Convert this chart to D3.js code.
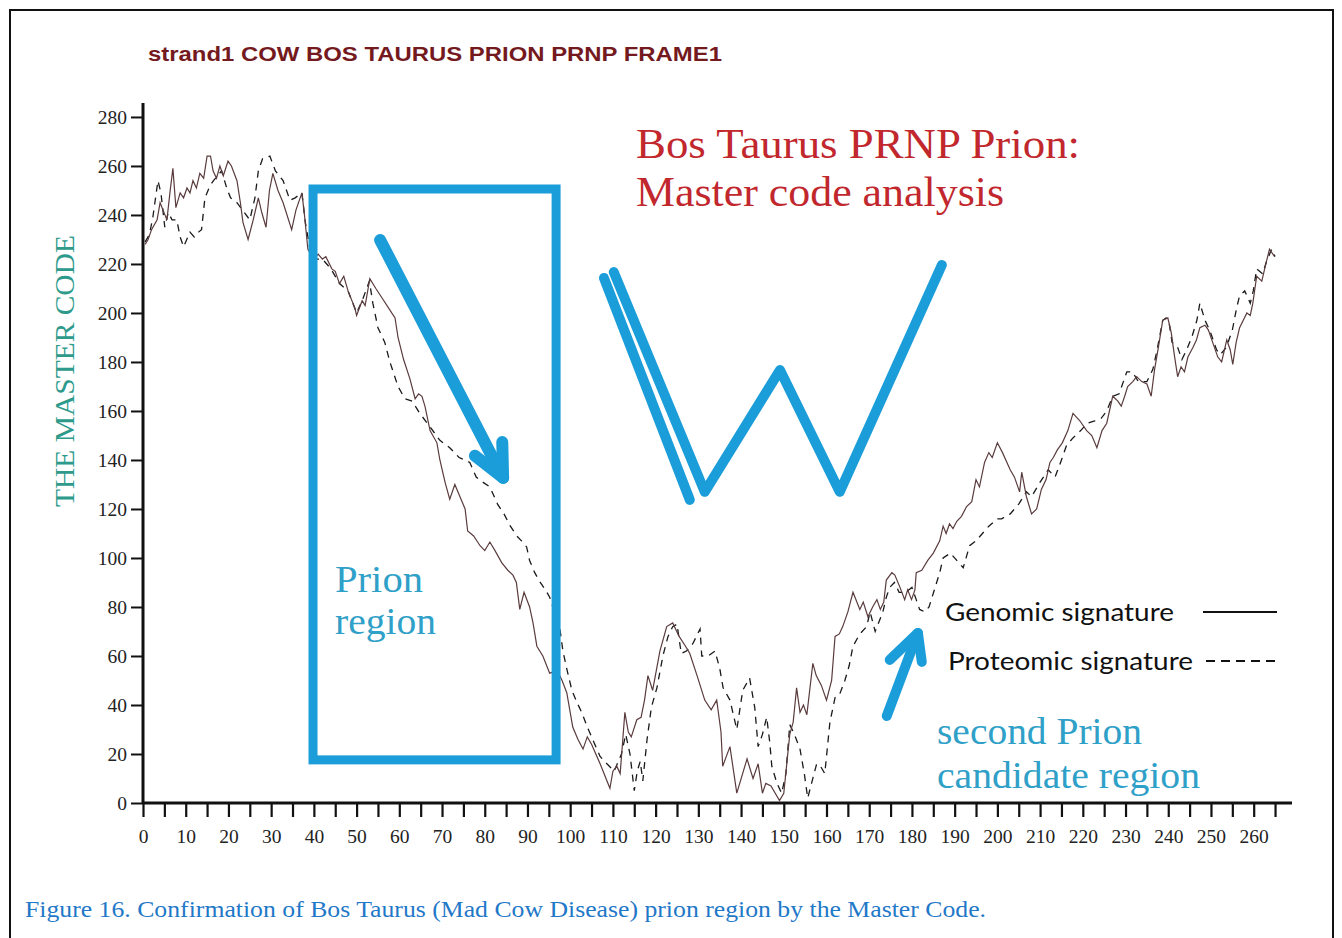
<!DOCTYPE html>
<html><head><meta charset="utf-8">
<script src="https://cdn.jsdelivr.net/npm/d3@7"></script>
<style>body{margin:0;background:#fff}svg{display:block}</style>
</head><body>
<svg id="c" width="1342" height="938"></svg>
<script>
// ---- data ----
const titleText = "strand1 COW BOS TAURUS PRION PRNP FRAME1";
const yLabel = "THE MASTER CODE";
const xTickStep = 5, xLabelStep = 10;
const yTicks = [0,20,40,60,80,100,120,140,160,180,200,220,240,260,280];
const seriesNames = ["Genomic signature","Proteomic signature"];

const genomicPos = [0.5,1.2,2,3.3,4,5.6,6.3,7,7.7,8.7,9.5,10.3,11,11.7,12.5,13.3,14.2,15,15.8,16.4,17.2,18,18.8,19.9,20.7,22,22.8,23.4,24.6,25.8,27,27.8,28.8,29.6,30.4,31.6,32.8,34.8,35.8,37.2,37.8,38.6,39.3,40,41,42,42.8,44.2,45,46,47,48,49.6,50,51.3,52,53.1,54.5,56,57.5,59,59.7,61,62.5,63.7,64.5,65.3,66,67.2,68.8,69.5,70.7,71.8,73,74.2,75.4,76,77.4,78.9,80,81.2,82.4,84,85.4,86.6,87.4,88.2,89.2,90.5,91.3,92.2,93.6,95.2,97,98.1,99.2,100.6,101.8,103,104,105,107,109.3,110,110.9,111.7,112.8,113.6,114.3,115.6,116.6,117.4,118.2,119.3,121,122.6,124,125.5,127,128,129.7,131.5,133,134.3,135.3,135.7,137.4,139,141.4,142.8,144,145,145.8,147,149,150,151.4,152.2,153,153.8,154.6,155.4,156.8,157.6,158.8,160,161.2,162,163,163.8,165,166.2,167.8,168.6,169.7,170.8,171.8,172.6,173.4,174,175.3,176,177.2,178.3,179,179.9,180.7,181,182.3,183.7,185,186.5,187.3,188,188.8,189.6,190.5,191.6,192.8,194,195,195.8,197,198,198.8,200,201.2,203,204,205.2,205.7,206.8,208,209.2,210.3,211.4,212.3,213.1,214,215.2,216.5,217.7,219.3,220.9,222.1,223.3,224.5,225.6,227,228.2,229,229.8,230.5,231.7,232.6,233.8,235,236,236.8,237.6,238.7,239.9,240.7,241.5,242.2,243,243.8,244.6,245.8,246.6,247.4,248.6,249.4,250.4,251.6,252.5,253.7,254.5,255.1,255.9,256.7,258.4,259.2,259.8,260.7,261.9,262.7,263.7,264.9];
const genomicVal = [228,230,234,238,245,238,249,259,243,249,247,251,249,254,251,257,255,264,264,258,255,260,256,262,260,254,245,237,230,238,247,241,235,250,257,250,245,234,242,249,240,226,224,222,224,222,223,218,217,212,215,209,202,199,205,203,214,210,206,202,198,190,181,173,165,167,166,162,152,147,140,131,124,130,125,120,111,109,105,103,106.5,103,98,95,93,90,79,86,80,73.5,64,60,53,54,50,45,31,26,22,27,24,16,6,13,15,12,37,29,27,34,35,42,52,46,62,72,73.5,68,64,61,52,42,38,42,29,15,23,4,18,10,16,4,8,7,1,4,28,33,47,37,40,36,57,52,48,42,50,68,69,72,78,86,79,82,76,80,83,79,82,91,94,93,88,83,87,83,87,94,95,99,102,107,113,110,114,112,115,117,121,123,132,129,139,143,141,147,143,136,133,127,135,125,118,120,128,132,139,141,144,147,152,159,156,152,150,145,152,155,166,164,162,166,170,172,174,172,171,166,177,185,197,198,192,182,174,178,176,182,186,189,194,195,193,188,182,180,189,185,179,188,194,200,199,204,215,213,219,226,223];

const proteomicPos = [0.5,1.5,2.3,3.5,4.2,5.1,5.9,6.8,7.9,8.7,9.5,11,12,13,13.7,14.5,15.7,16.5,17.2,18.4,19.6,20.5,22,23.3,25,26.2,27,28,29.7,31,32.8,34.4,35.6,37.2,38,39,40,42,44,46,48,50,51.3,53,53.8,55,56.6,57.8,59.7,61.3,63,64.8,67,69.5,71.8,74,76.5,78,79.5,81.2,83,84.5,86,87.5,88.6,89.8,90.5,91.7,93,94.2,95.2,97.6,98.3,99.3,100.4,101.6,102.7,104,105.5,107,108.6,110.3,112,113,114,115,115.7,116.4,117,118,119,120.3,121.7,122.9,124,125,126,127.2,128.7,130.4,130.8,132.3,133.9,135,135.8,137.4,139,140.4,142,143.2,144,145,146,146.7,147.2,148.4,149.5,150.5,151.4,152.5,153.8,154.8,155.6,156.5,157.7,158.6,159.6,160.8,162,163,164.3,165.3,166.2,167.8,169.4,170.2,171.4,173.2,174,174.8,175.9,177,178.5,180,181,181.8,183,184,186.5,187.3,189,190.5,192,193.5,195,196.5,198,200,201,203,205,206.8,208,210,211.9,213.5,215,216.2,217.7,219.5,221,222.8,224.3,225.6,227,228.5,230.3,231.6,233,235,236.4,237.4,238.7,239.5,240.2,240.9,242.2,243.2,244.3,245.5,246.7,247.4,248.6,249.7,251.3,252.2,253.6,255,256,256.7,257.9,259.2,259.9,260.7,262.1,263,264.2,265];
const proteomicVal = [229,232,239,254,249,235,241,238,238,231,227,233,231,233,234,247,252,254,255.5,258,251,247,245,242,238,247,258,263,264,258,254,246,247,249,237,227,222,222,218,212,209,200,205,213,204,194,188,180,170,165,164,159,154,148,145,141,139,133,131,129,122,118,113,109,107,104.5,99,94,90,87,84,71,62,54,46,41,37,31,25,19,16,13,20,28,20,5,13,17,9,26,39,47,60,68,72,73,61,62,65,71,60,60,62,55,47,42,30,46,51,39,23,28,35,25,15,8,4,12,32,28,22,12,2,8,16,15,12,33,43,44,50,56,64,69,72,78,70,78,84,88,90,86,86,88,83,79,78,80,94,100,102,99,96,105,107,110,113,116,116,118,122,127,125,131,136,133,140,146,149,152,155,156,157,160,166,167,176,176,172,172,177,185,197,198,196,188,186,181,185,190,197,204,197,193,185,183,186,193,202,207,209,204,209,218,216,221,226,223];

// annotation shapes, in data units
const boxX = [39.8, 96.7], boxY = [17.6, 250.6];
const arrow1 = [[55.5,229.8],[84.3,132.7]];
const arrow1Head = [[77.7,141.7],[84.3,132.7],[84.1,147.3]];
const wLeft = [[107.9,214.3],[128,123.7]];
const wMain = [[110.2,216.7],[131.5,127],[149.1,176.7],[163.1,127],[187,219.6]];
const arrow2 = [[174.1,35.5],[181.4,69.4]];
const arrow2Head = [[174.8,58.4],[181.4,69.4],[182.3,57.6]];

// ---- drawing ----
const svg = d3.select("#c");
const x = d3.scaleLinear().domain([0,268.5]).range([143,1290]);
const y = d3.scaleLinear().domain([0,285.7]).range([803,103]);
const blue = "#1b9dda";

svg.append("rect").attr("x",0).attr("y",0).attr("width",1342).attr("height",938).attr("fill","#fff");
svg.append("path").attr("d","M10,945 V10 H1333 V945").attr("fill","none").attr("stroke","#111").attr("stroke-width",2);

svg.append("text").attr("x",148).attr("y",61).attr("font-family","Liberation Sans, Arial, sans-serif")
  .attr("font-weight","bold").attr("font-size",20).attr("fill","#741a1e")
  .attr("textLength",574).attr("lengthAdjust","spacingAndGlyphs").text(titleText);

// axes
const xt = d3.range(0, 266, xTickStep);
const xAxis = d3.axisBottom(x).tickValues(xt).tickSize(14).tickPadding(12)
  .tickFormat(d => d % xLabelStep === 0 ? d : "");
const gx = svg.append("g").attr("transform","translate(0,803)").call(xAxis);
gx.select(".domain").attr("stroke","#111").attr("stroke-width",3).attr("d","M143,0H1292");
gx.selectAll(".tick line").attr("stroke","#111").attr("stroke-width",2.2);
gx.selectAll(".tick text").attr("font-family","Liberation Serif, serif").attr("font-size",19.5).attr("fill","#222");

const yAxis = d3.axisLeft(y).tickValues(yTicks).tickSize(12).tickPadding(4);
const gy = svg.append("g").attr("transform","translate(143,0)").call(yAxis);
gy.select(".domain").attr("stroke","#111").attr("stroke-width",3).attr("d","M0,803V103");
gy.selectAll(".tick line").attr("stroke","#111").attr("stroke-width",2);
gy.selectAll(".tick text").attr("font-family","Liberation Serif, serif").attr("font-size",19.5).attr("fill","#222");

svg.append("text").attr("transform","translate(74,371) rotate(-90)").attr("text-anchor","middle")
  .attr("font-family","Liberation Serif, serif").attr("font-size",28).attr("fill","#2e9a8c")
  .attr("textLength",272).attr("lengthAdjust","spacingAndGlyphs").text(yLabel);

// series lines
const line = d3.line().x(d=>x(d[0])).y(d=>y(d[1]));
const gData = genomicPos.map((p,i)=>[p,genomicVal[i]]);
const pData = proteomicPos.map((p,i)=>[p,proteomicVal[i]]);
svg.append("path").datum(pData).attr("d",line).attr("fill","none").attr("stroke","#1a1a1a")
  .attr("stroke-width",1.3).attr("stroke-dasharray","7,6");
svg.append("path").datum(gData).attr("d",line).attr("fill","none").attr("stroke","#5b3c3e")
  .attr("stroke-width",1.2);

// annotations
const ann = svg.append("g").attr("fill","none").attr("stroke",blue).attr("stroke-linecap","round").attr("stroke-linejoin","round");
ann.append("rect").attr("x",x(boxX[0])).attr("y",y(boxY[1])).attr("width",x(boxX[1])-x(boxX[0]))
  .attr("height",y(boxY[0])-y(boxY[1])).attr("stroke-width",9).attr("stroke-linejoin","miter").attr("stroke-linecap","butt");
ann.append("path").datum(arrow1).attr("d",line).attr("stroke-width",12);
ann.append("path").datum(arrow1Head).attr("d",line).attr("stroke-width",12);
ann.append("path").datum(wLeft).attr("d",line).attr("stroke-width",10);
ann.append("path").datum(wMain).attr("d",line).attr("stroke-width",10);
ann.append("path").datum(arrow2).attr("d",line).attr("stroke-width",10);
ann.append("path").datum(arrow2Head).attr("d",line).attr("stroke-width",10);

// texts
const serif = "Liberation Serif, serif";
const red = "#c1272d";
svg.append("text").attr("x",636).attr("y",158).attr("font-family",serif).attr("font-size",42).attr("fill",red)
  .attr("textLength",444).attr("lengthAdjust","spacingAndGlyphs").text("Bos Taurus PRNP Prion:");
svg.append("text").attr("x",636).attr("y",206).attr("font-family",serif).attr("font-size",42).attr("fill",red)
  .attr("textLength",368).attr("lengthAdjust","spacingAndGlyphs").text("Master code analysis");

const tblue = "#2fa0c8";
svg.append("text").attr("x",335).attr("y",592).attr("font-family",serif).attr("font-size",37).attr("fill",tblue)
  .attr("textLength",88).attr("lengthAdjust","spacingAndGlyphs").text("Prion");
svg.append("text").attr("x",335).attr("y",634).attr("font-family",serif).attr("font-size",37).attr("fill",tblue)
  .attr("textLength",101).attr("lengthAdjust","spacingAndGlyphs").text("region");
svg.append("text").attr("x",937).attr("y",744).attr("font-family",serif).attr("font-size",37).attr("fill",tblue)
  .attr("textLength",205).attr("lengthAdjust","spacingAndGlyphs").text("second Prion");
svg.append("text").attr("x",937).attr("y",788).attr("font-family",serif).attr("font-size",37).attr("fill",tblue)
  .attr("textLength",263).attr("lengthAdjust","spacingAndGlyphs").text("candidate region");

// legend
const lg = svg.append("g").attr("font-family","Lato, Open Sans, sans-serif").attr("font-size",25).attr("fill","#111");
lg.append("text").attr("x",945).attr("y",621).attr("textLength",229).attr("lengthAdjust","spacingAndGlyphs").text(seriesNames[0]);
lg.append("text").attr("x",948).attr("y",670).attr("textLength",245).attr("lengthAdjust","spacingAndGlyphs").text(seriesNames[1]);
svg.append("line").attr("x1",1203).attr("x2",1277).attr("y1",612).attr("y2",612).attr("stroke","#111").attr("stroke-width",2);
svg.append("line").attr("x1",1206).attr("x2",1276).attr("y1",661).attr("y2",661).attr("stroke","#111").attr("stroke-width",2).attr("stroke-dasharray","9,6");

// caption
svg.append("text").attr("x",25).attr("y",917).attr("font-family",serif).attr("font-size",23).attr("fill","#1f78c8")
  .attr("textLength",961).attr("lengthAdjust","spacingAndGlyphs")
  .text("Figure 16. Confirmation of Bos Taurus (Mad Cow Disease) prion region by the Master Code.");
</script>
</body></html>
